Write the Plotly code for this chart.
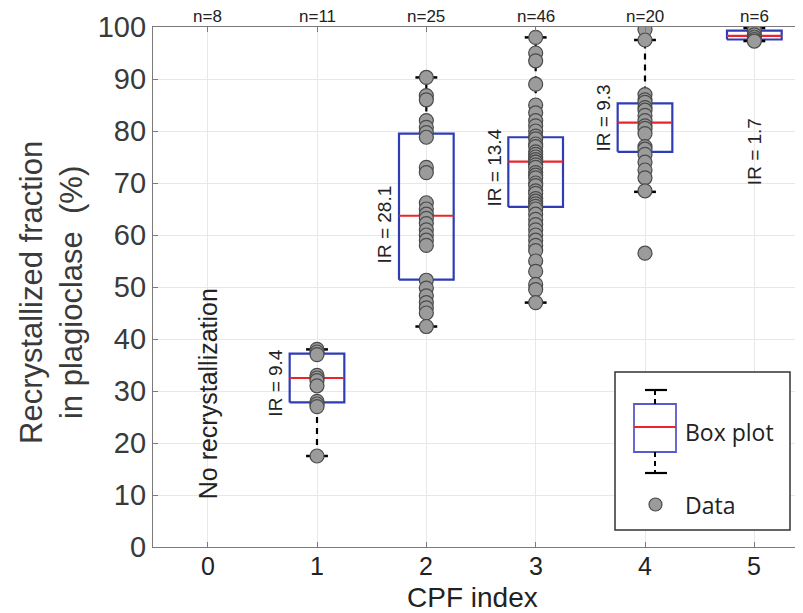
import plotly.graph_objects as go

# ---------------- data ----------------
cpf_index = [0, 1, 2, 3, 4, 5]
n_labels = ["n=8", "n=11", "n=25", "n=46", "n=20", "n=6"]

box_cats = [1, 2, 3, 4, 5]
q1 = [27.8, 51.4, 65.4, 76.0, 97.6]
median = [32.5, 63.7, 74.1, 81.6, 98.3]
q3 = [37.2, 79.5, 78.8, 85.3, 99.3]
whisker_low = [17.5, 42.4, 47.0, 68.3, 97.3]
whisker_high = [38.0, 90.3, 98.0, 97.5, 99.8]
ir_text = ["IR = 9.4", "IR = 28.1", "IR = 13.4", "IR = 9.3", "IR = 1.7"]
ir_y = [31.5, 62.0, 73.0, 82.5, 76.0]

pts_1 = [38.0, 37.5, 37.0, 33.0, 32.5, 32.0, 31.0, 28.0, 27.5, 27.0, 17.5]
pts_2 = [90.3, 86.8, 86.0, 82.0, 80.7, 79.7, 78.8, 73.0, 72.0, 66.2, 65.0, 64.0, 63.2,
         62.2, 61.0, 60.0, 59.0, 58.0, 51.3, 49.8, 48.3, 47.0, 46.0, 45.0, 42.4]
pts_3 = [98, 95, 93.5, 89, 85, 83.5, 82, 81, 80, 79, 78.5, 77.5, 77, 76, 75.5, 75, 74.5,
         74, 74, 73.5, 73, 72, 71.5, 71, 70, 69.5, 68.5, 68, 67, 66.5, 66, 65.5, 65, 64,
         63, 62, 61, 60, 59, 58, 57, 55, 53, 50.5, 49.5, 47]
pts_4 = [99.5, 97.5, 87, 86, 85.5, 84.5, 84, 83, 82, 81, 80.5, 79.5, 77, 76.5, 75.5, 74,
         72.5, 71, 68.5, 56.5]
pts_5 = [99.8, 99.3, 98.5, 98.0, 97.6, 97.3]
points = [pts_1, pts_2, pts_3, pts_4, pts_5]

# ---------------- style ----------------
BOX_HALF = 0.25
CAP_HALF = 0.1
BLUE = "#2f3db5"
RED = "#e8262b"
FONT = "Liberation Sans, Arial, sans-serif"

fig = go.Figure()

# box outlines
bx, by = [], []
for c, a, b in zip(box_cats, q1, q3):
    bx += [c - BOX_HALF, c + BOX_HALF, c + BOX_HALF, c - BOX_HALF, c - BOX_HALF, None]
    by += [a, a, b, b, a, None]
fig.add_trace(go.Scatter(x=bx, y=by, mode="lines", line=dict(color=BLUE, width=2.2),
                         hoverinfo="skip", showlegend=False))

# whiskers (dashed)
wx, wy = [], []
for c, lo, a, b, hi in zip(box_cats, whisker_low, q1, q3, whisker_high):
    wx += [c, c, None, c, c, None]
    wy += [lo, a, None, b, hi, None]
fig.add_trace(go.Scatter(x=wx, y=wy, mode="lines",
                         line=dict(color="black", width=2.2, dash="6px,5px"),
                         hoverinfo="skip", showlegend=False))

# whisker caps
cx, cy = [], []
for c, lo, hi in zip(box_cats, whisker_low, whisker_high):
    cx += [c - CAP_HALF, c + CAP_HALF, None, c - CAP_HALF, c + CAP_HALF, None]
    cy += [lo, lo, None, hi, hi, None]
fig.add_trace(go.Scatter(x=cx, y=cy, mode="lines", line=dict(color="black", width=2.5),
                         hoverinfo="skip", showlegend=False))

# medians
mx, my = [], []
for c, m in zip(box_cats, median):
    mx += [c - BOX_HALF, c + BOX_HALF, None]
    my += [m, m, None]
fig.add_trace(go.Scatter(x=mx, y=my, mode="lines", line=dict(color=RED, width=2.2),
                         hoverinfo="skip", showlegend=False))

# data points
for c, p in zip(box_cats, points):
    fig.add_trace(go.Scatter(x=[c] * len(p), y=p, mode="markers",
                             marker=dict(size=14, color="#9b9b9b",
                                         line=dict(color="#4a4a4a", width=1.2)),
                             showlegend=False))

# IR labels
for c, t, yv in zip(box_cats, ir_text, ir_y):
    xoff = 0 if c == 5 else -0.38
    fig.add_annotation(x=c + xoff, y=yv, text=t, textangle=-90, showarrow=False,
                       xanchor="center", yanchor="middle",
                       font=dict(family=FONT, size=19, color="#222"))
fig.add_annotation(x=0, y=29.5, text="No recrystallization", textangle=-90,
                   showarrow=False, xanchor="center", yanchor="middle",
                   font=dict(family=FONT, size=25, color="#222"))


# ---------------- geometry helpers (window pixels -> paper) ----------------
def px(x):
    return (x - 153) / 656


def py(y):
    return (547 - y) / 520


# n labels
for c, t in zip(cpf_index, n_labels):
    fig.add_annotation(x=c, y=py(16), yref="paper", xanchor="center", yanchor="middle",
                       text=t, showarrow=False,
                       font=dict(family=FONT, size=17, color="#222"))

# x tick labels
for c in cpf_index:
    fig.add_annotation(x=c, y=py(566), yref="paper", xanchor="center", yanchor="middle",
                       text=str(c), showarrow=False, borderpad=0,
                       font=dict(family=FONT, size=25, color="#222"))

# axis titles
fig.add_annotation(x=px(51), y=py(293), xref="paper", yref="paper",
                   xanchor="center", yanchor="middle",
                   text="Recrystallized fraction<br>in plagioclase  (%)", textangle=-90,
                   showarrow=False, font=dict(family=FONT, size=31, color="#3a3a3a"))
fig.add_annotation(x=px(472), y=py(597), xref="paper", yref="paper",
                   xanchor="center", yanchor="middle", text="CPF index", borderpad=0,
                   showarrow=False, font=dict(family=FONT, size=28, color="#222"))

# ---------------- custom legend ----------------
shapes = [
    dict(type="rect", xref="paper", yref="paper", x0=px(615), x1=px(790), y0=py(530),
         y1=py(372), line=dict(color="#333", width=1.5), fillcolor="white", layer="above"),
    dict(type="rect", xref="paper", yref="paper", x0=px(634), x1=px(676), y0=py(452),
         y1=py(404), line=dict(color="#5a5ad0", width=1.8), layer="above"),
    dict(type="line", xref="paper", yref="paper", x0=px(634), x1=px(676), y0=py(427),
         y1=py(427), line=dict(color=RED, width=2), layer="above"),
    dict(type="line", xref="paper", yref="paper", x0=px(645), x1=px(667), y0=py(390),
         y1=py(390), line=dict(color="black", width=2.2), layer="above"),
    dict(type="line", xref="paper", yref="paper", x0=px(645), x1=px(667), y0=py(473),
         y1=py(473), line=dict(color="black", width=2.2), layer="above"),
    dict(type="line", xref="paper", yref="paper", x0=px(655), x1=px(655), y0=py(390),
         y1=py(404), line=dict(color="black", width=2, dash="5px,4px"), layer="above"),
    dict(type="line", xref="paper", yref="paper", x0=px(655), x1=px(655), y0=py(452),
         y1=py(473), line=dict(color="black", width=2, dash="5px,4px"), layer="above"),
    dict(type="circle", xref="paper", yref="paper", x0=px(649), x1=px(662), y0=py(511),
         y1=py(498), line=dict(color="#4a4a4a", width=1.2), fillcolor="#9b9b9b",
         layer="above"),
]
fig.add_annotation(x=px(683), y=py(432), xref="paper", yref="paper", xanchor="left",
                   yanchor="middle", text="Box plot", showarrow=False,
                   font=dict(family="Open Sans, sans-serif", size=23, color="#222"))
fig.add_annotation(x=px(683), y=py(505), xref="paper", yref="paper", xanchor="left",
                   yanchor="middle", text="Data", showarrow=False,
                   font=dict(family="Open Sans, sans-serif", size=23, color="#222"))

# The page body adds an 8px offset; margins compensate so the plot lands at
# window pixels x 153.., y 27..547.
fig.update_layout(
    width=803, height=613,
    margin=dict(l=145, r=2, t=19, b=74),
    plot_bgcolor="white", paper_bgcolor="white",
    shapes=shapes,
    xaxis=dict(range=[-0.5, 5.5], tickmode="array", tickvals=cpf_index,
               showticklabels=False, showgrid=True, gridcolor="#e8e8e8",
               zeroline=False, showline=True, linecolor="#7a7a7a", linewidth=1.2,
               mirror="ticks", ticks="inside", ticklen=5, tickcolor="#7a7a7a"),
    yaxis=dict(range=[0, 100], tickmode="array", tickvals=list(range(0, 101, 10)),
               showgrid=True, gridcolor="#e8e8e8", zeroline=False, showline=True,
               linecolor="#7a7a7a", linewidth=1.2, ticks="inside", ticklen=5,
               tickcolor="#7a7a7a",
               tickfont=dict(family=FONT, size=29, color="#3a3a3a")),
)

fig.write_html("out.html")
